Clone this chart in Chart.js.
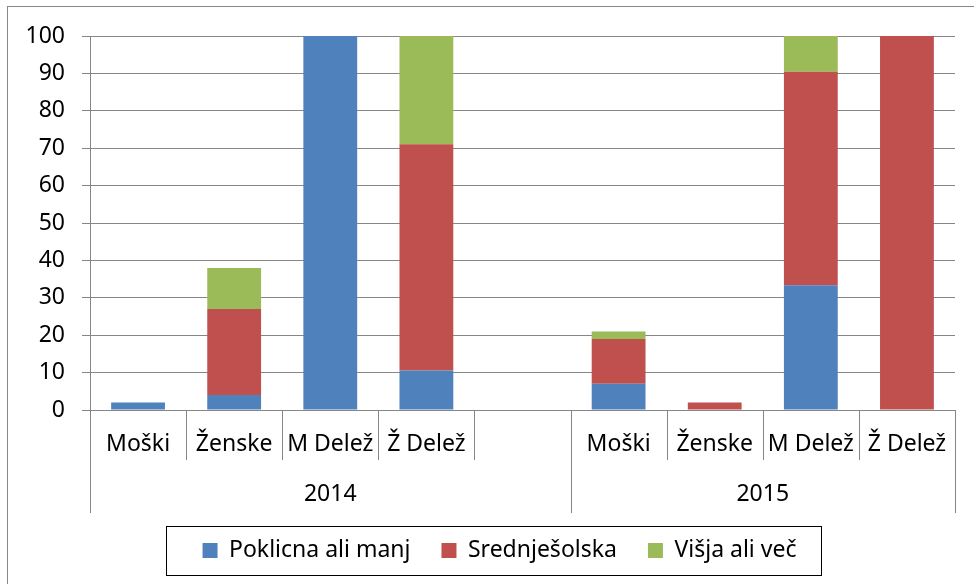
<!DOCTYPE html>
<html>
<head>
<meta charset="utf-8">
<script src="https://cdn.jsdelivr.net/npm/chart.js@4.4.1/dist/chart.umd.min.js"></script>
<style>
html,body{margin:0;padding:0;background:#fff;}
#wrap{width:974px;height:584px;position:relative;}
</style>
</head>
<body>
<div id="wrap"><canvas id="c" width="974" height="584"></canvas></div>
<script>
// ---- data ----
const categories = ['Moški', 'Ženske', 'M Delež', 'Ž Delež', '', 'Moški', 'Ženske', 'M Delež', 'Ž Delež'];
const groups = ['2014', '2015'];
const groupSizes = [5, 4];
const seriesNames = ['Poklicna ali manj', 'Srednješolska', 'Višja ali več'];
const poklicna = [2, 4, 100, 10.53, null, 7, 0, 33.33, 0];
const srednjesolska = [0, 23, 0, 60.53, null, 12, 2, 57.14, 100];
const visja = [0, 11, 0, 28.95, null, 2, 0, 9.52, 0];
const yMin = 0, yMax = 100, yStep = 10;

const FONT = "'Noto Sans', 'Open Sans', sans-serif";
const FS = 23;
const GRID = '#868686';

const groupPlugin = {
  id: 'groupAxis',
  afterDraw(chart) {
    const ctx = chart.ctx;
    const xs = chart.scales.x, ys = chart.scales.y;
    const n = categories.length;
    const w = (xs.right - xs.left) / n;
    const axisY = ys.bottom;
    const bounds = [0];
    groupSizes.forEach(s => bounds.push(bounds[bounds.length - 1] + s));
    ctx.save();
    ctx.strokeStyle = GRID;
    ctx.lineWidth = 1;
    for (let i = 0; i <= n; i++) {
      const x = Math.round(xs.left + i * w) + 0.5;
      const long = bounds.includes(i);
      ctx.beginPath();
      ctx.moveTo(x, axisY);
      ctx.lineTo(x, long ? axisY + 103 : axisY + 50);
      ctx.stroke();
    }
    ctx.fillStyle = '#000';
    ctx.font = FS + 'px ' + FONT;
    ctx.textAlign = 'center';
    ctx.textBaseline = 'middle';
    groups.forEach((g, k) => {
      const x0 = xs.left + bounds[k] * w, x1 = xs.left + bounds[k + 1] * w;
      ctx.fillText(g, (x0 + x1) / 2, axisY + 84);
    });
    // legend border
    const hb = chart.legend.legendHitBoxes;
    if (hb && hb.length) {
      const l = hb[0].left - 37;
      const r = hb[hb.length - 1].left + hb[hb.length - 1].width + 24;
      const cy = hb[0].top + hb[0].height / 2;
      ctx.strokeStyle = '#000';
      ctx.strokeRect(Math.round(l) + 0.5, Math.round(cy - 24.5) + 0.5, Math.round(r - l), 49);
    }
    // outer border
    ctx.strokeStyle = '#898989';
    ctx.strokeRect(7.5, 6.5, 1200, 1200);
    ctx.restore();
  }
};

new Chart(document.getElementById('c'), {
  type: 'bar',
  data: {
    labels: categories,
    datasets: [
      { label: seriesNames[0], data: poklicna, backgroundColor: '#4F81BD' },
      { label: seriesNames[1], data: srednjesolska, backgroundColor: '#C0504D' },
      { label: seriesNames[2], data: visja, backgroundColor: '#9BBB59' }
    ]
  },
  options: {
    responsive: false,
    animation: false,
    devicePixelRatio: 1,
    layout: { padding: { top: 36, left: 25, right: 0, bottom: 12 } },
    datasets: { bar: { barPercentage: 0.56, categoryPercentage: 1 } },
    scales: {
      x: {
        stacked: true,
        grid: { display: false },
        border: { display: true, color: GRID },
        ticks: { color: '#000', font: { family: FONT, size: FS }, padding: 13, maxRotation: 0, autoSkip: false },
        afterFit(s) { s.height = 98; }
      },
      y: {
        stacked: true,
        min: yMin, max: yMax,
        grid: { color: GRID, tickLength: 8, drawTicks: true },
        border: { display: true, color: GRID },
        ticks: { stepSize: yStep, color: '#000', font: { family: FONT, size: FS }, padding: 17 },
        afterFit(s) { s.width = 65; }
      },
      yRight: {
        type: 'linear',
        position: 'right',
        display: true,
        grid: { display: false, drawTicks: false },
        border: { display: false },
        ticks: { display: false },
        afterFit(s) { s.width = 19; }
      }
    },
    plugins: {
      legend: {
        position: 'bottom',
        labels: {
          color: '#000',
          font: { family: FONT, size: FS },
          boxWidth: 15, boxHeight: 15,
          padding: 31
        }
      },
      tooltip: { enabled: false }
    }
  },
  plugins: [groupPlugin]
});
</script>
</body>
</html>
